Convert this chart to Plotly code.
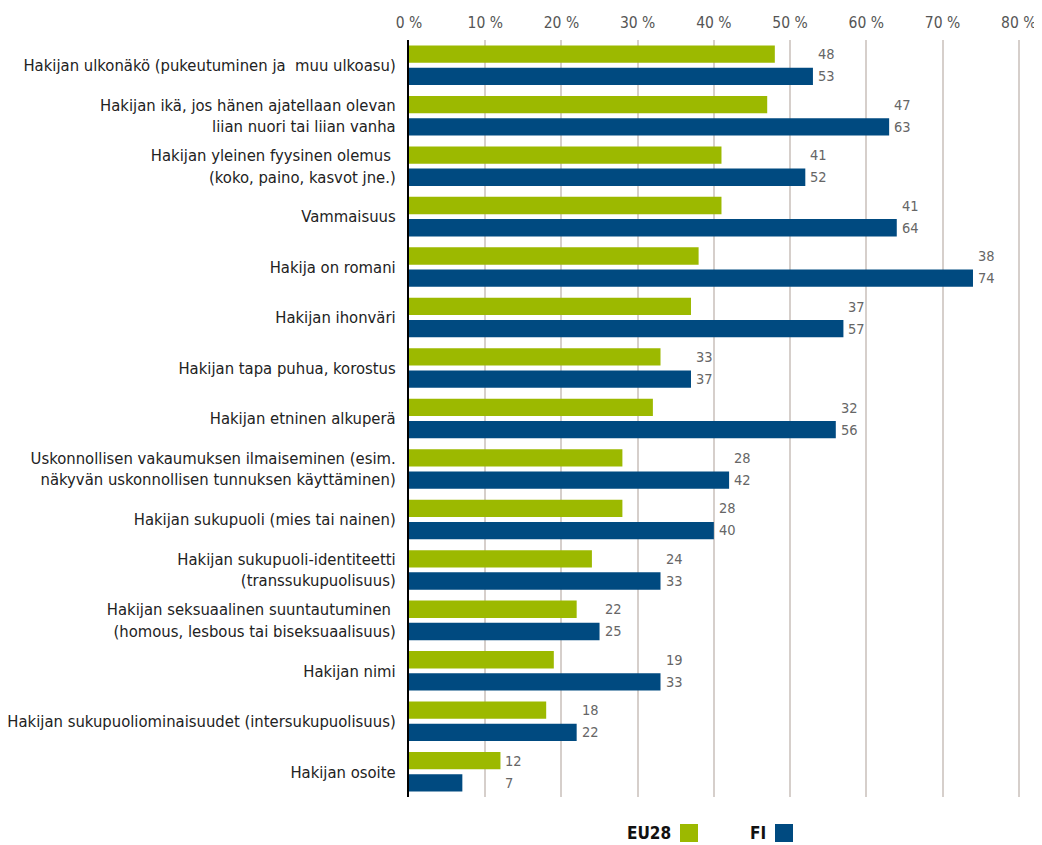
import plotly.graph_objects as go

categories = [
    "Hakijan ulkonäkö (pukeutuminen ja  muu ulkoasu)",
    "Hakijan ikä, jos hänen ajatellaan olevan<br>liian nuori tai liian vanha",
    "Hakijan yleinen fyysinen olemus <br>(koko, paino, kasvot jne.)",
    "Vammaisuus",
    "Hakija on romani",
    "Hakijan ihonväri",
    "Hakijan tapa puhua, korostus",
    "Hakijan etninen alkuperä",
    "Uskonnollisen vakaumuksen ilmaiseminen (esim.<br>näkyvän uskonnollisen tunnuksen käyttäminen)",
    "Hakijan sukupuoli (mies tai nainen)",
    "Hakijan sukupuoli-identiteetti<br>(transsukupuolisuus)",
    "Hakijan seksuaalinen suuntautuminen <br>(homous, lesbous tai biseksuaalisuus)",
    "Hakijan nimi",
    "Hakijan sukupuoliominaisuudet (intersukupuolisuus)",
    "Hakijan osoite",
]
eu28 = [48, 47, 41, 41, 38, 37, 33, 32, 28, 28, 24, 22, 19, 18, 12]
fi = [53, 63, 52, 64, 74, 57, 37, 56, 42, 40, 33, 25, 33, 22, 7]
series_names = ["EU28", "FI"]
tick_vals = [0, 10, 20, 30, 40, 50, 60, 70, 80]
tick_text = ["0 %", "10 %", "20 %", "30 %", "40 %", "50 %", "60 %", "70 %", "80 %"]

GREEN = "#9CB900"
BLUE = "#004A80"
FONT = "DejaVu Sans Condensed, DejaVu Sans, sans-serif"

# page body margin offset
OX, OY = 8, 8
W, H = 1034, 837
# plot area in screen pixels: x 409..1021, y 40..797
L = 409 - OX
T = 40 - OY
R = W - (1021 - OX)
B = H - (797 - OY)
PW, PH = W - L - R, H - T - B

fig = go.Figure()
fig.add_trace(go.Bar(y=categories, x=eu28, orientation="h", name=series_names[0],
                     marker=dict(color=GREEN, line=dict(width=0)), showlegend=False))
fig.add_trace(go.Bar(y=categories, x=fi, orientation="h", name=series_names[1],
                     marker=dict(color=BLUE, line=dict(width=0)), showlegend=False))

annotations = []
for cat, a, b in zip(categories, eu28, fi):
    m = max(a, b)
    for val, ys in ((a, 11), (b, -11)):
        annotations.append(dict(x=m, y=cat, xref="x", yref="y", text=str(val),
                                showarrow=False, xanchor="left", xshift=3, yshift=ys,
                                font=dict(family=FONT, size=14.5, color="#666666")))


def paper(sx, sy):
    x = sx - OX
    y = sy - OY
    return (x - L) / PW, 1 - (y - T) / PH


for label, right_px in (("EU28", 673), ("FI", 768)):
    xp, yp = paper(right_px, 833)
    annotations.append(dict(x=xp, y=yp, xref="paper", yref="paper", text="<b>" + label + "</b>",
                            showarrow=False, xanchor="right", yanchor="middle",
                            font=dict(family=FONT, size=17, color="#111111")))

shapes = []
for x0, col in ((680, GREEN), (775, BLUE)):
    x0p, y1p = paper(x0, 824)
    x1p, y0p = paper(x0 + 18, 842)
    shapes.append(dict(type="rect", xref="paper", yref="paper", x0=x0p, x1=x1p,
                       y0=y0p, y1=y1p, fillcolor=col, line=dict(width=0)))

fig.update_layout(
    width=W, height=H,
    margin=dict(l=L, r=R, t=T, b=B),
    plot_bgcolor="white", paper_bgcolor="white",
    barmode="group", bargap=0.12, bargroupgap=0.22,
    font=dict(family=FONT, size=16.5, color="#222222"),
    xaxis=dict(side="top", range=[0, 80.3], tickvals=tick_vals, ticktext=tick_text,
               showgrid=True, gridcolor="#D6CFCB", gridwidth=1.5, zeroline=False,
               tickfont=dict(family=FONT, size=15.5, color="#555555"),
               ticks="", showline=False, automargin=False, ticklabelstandoff=8),
    yaxis=dict(autorange="reversed", showline=True, linecolor="black", linewidth=2,
               ticks="", showgrid=False, ticklabelstandoff=8, automargin=False,
               tickfont=dict(family=FONT, size=16.5, color="#222222")),
    annotations=annotations,
    shapes=shapes,
)
fig.write_html("out.html")
